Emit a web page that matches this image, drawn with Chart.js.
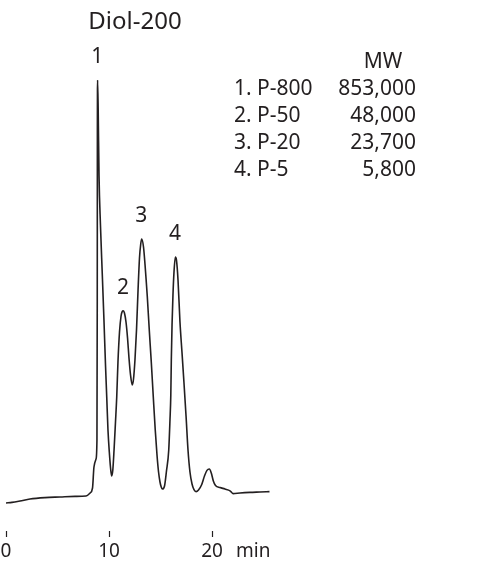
<!DOCTYPE html>
<html>
<head>
<meta charset="utf-8">
<script src="https://cdn.jsdelivr.net/npm/chart.js@4.4.1/dist/chart.umd.min.js"></script>
<style>
  html, body { margin: 0; padding: 0; background: #fff; }
  #wrap { width: 500px; height: 564px; position: relative; }
</style>
</head>
<body>
<div id="wrap"><canvas id="c" width="500" height="564"></canvas></div>
<script>
// ---- data (retention time in min, detector response in arbitrary units) ----
const times = [0, 0.58, 1.36, 2.33, 3.79, 5.24, 6.70, 7.77, 8.16, 8.40, 8.54, 8.74, 8.83, 8.86, 8.87, 8.89,
  8.95, 9.03, 9.17, 9.35, 9.51, 9.66, 9.78, 9.90, 10.05, 10.17, 10.26, 10.37, 10.49, 10.63, 10.75, 10.87,
  11.02, 11.17, 11.28, 11.39, 11.50, 11.65, 11.80, 11.94, 12.09, 12.26, 12.38, 12.52, 12.67, 12.82, 12.96,
  13.08, 13.17, 13.35, 13.50, 13.62, 13.72, 13.91, 14.11, 14.30, 14.49, 14.66, 14.81, 14.95, 15.07, 15.19,
  15.39, 15.58, 15.80, 15.92, 16.00, 16.05, 16.12, 16.21, 16.31, 16.44, 16.55, 16.70, 16.89, 17.09, 17.28,
  17.48, 17.67, 17.86, 18.06, 18.25, 18.45, 18.69, 18.98, 19.27, 19.51, 19.74, 19.93, 20.13, 20.34, 20.78,
  21.26, 21.75, 22.04, 22.72, 23.69, 24.66, 25.58];
const response = [-1.75, -1.6, -1.25, -0.75, -0.4, -0.25, -0.1, 0, 0.75, 2.0, 7.25, 9.25, 14, 49, 86.5, 104,
  96.5, 80.25, 67.75, 55.25, 44, 32.75, 24.75, 16.5, 10.25, 6.5, 5, 6.5, 11.5, 18.5, 24.75, 33.5,
  41, 45, 46.1, 46.3, 45.75, 43.5, 39.5, 34.5, 30.25, 27.75, 29.25, 34, 41.5, 51.5, 59.5,
  63, 64.25, 62.25, 57.75, 53.5, 49.75, 41.5, 33.25, 24.75, 16.5, 10.25, 6, 3.5, 2.25, 1.75,
  2.5, 6.25, 11.5, 19, 25.25, 34, 42.75, 50.25, 56, 59.75, 59, 54, 43.5, 35.75, 28.25,
  20, 11.5, 6, 3, 1.6, 1.1, 1.5, 2.75, 5, 6.4, 6.75, 5.75, 3.75, 2.6, 2.1,
  1.75, 1.3, 0.6, 0.75, 0.9, 1.0, 1.1];

const tickValues = [0, 10, 20, 24];
const tickLabels = ['0', '10', '20', 'min'];

const titleText = 'Diol-200';
const peakNames = ['1', '2', '3', '4'];
const peakTimes = [8.89, 11.39, 13.17, 16.44];
const peakHeights = [104, 46.3, 64.25, 59.75];

const legendHeader = 'MW';
const legendNames = ['1. P-800', '2. P-50', '3. P-20', '4. P-5'];
const legendMW = ['853,000', '48,000', '23,700', '5,800'];

const FONT = '"Noto Sans", "Open Sans", sans-serif';
const INK = '#231f20';

const annotations = {
  id: 'annotations',
  afterDraw(chart) {
    const { ctx, scales } = chart;
    const xs = scales.x, ys = scales.y;
    ctx.save();
    ctx.fillStyle = INK;
    ctx.textBaseline = 'middle';

    // title
    ctx.font = '24px ' + FONT;
    ctx.textAlign = 'center';
    ctx.fillText(titleText, 135, 22);

    // peak labels anchored to the peaks
    ctx.font = '21px ' + FONT;
    peakNames.forEach((n, i) => {
      const px = xs.getPixelForValue(peakTimes[i]);
      const py = ys.getPixelForValue(peakHeights[i]);
      ctx.fillText(n, px - 0.3, py - 22.5);
    });

    // legend table
    ctx.font = '21px ' + FONT;
    ctx.textAlign = 'center';
    ctx.fillText(legendHeader, 383, 62);
    legendNames.forEach((n, i) => {
      const y = 89 + i * 27;
      ctx.textAlign = 'left';
      ctx.fillText(n, 234, y);
      ctx.textAlign = 'right';
      ctx.fillText(legendMW[i], 416, y);
    });
    ctx.restore();
  }
};

new Chart(document.getElementById('c'), {
  type: 'line',
  data: {
    datasets: [{
      data: times.map((t, i) => ({ x: t, y: response[i] })),
      borderColor: INK,
      borderWidth: 1.6,
      pointRadius: 0,
      fill: false,
      cubicInterpolationMode: 'monotone'
    }]
  },
  options: {
    responsive: false,
    animation: false,
    devicePixelRatio: 1,
    layout: { padding: { left: 6, right: 0, top: 80, bottom: 0 } },
    plugins: { legend: { display: false }, tooltip: { enabled: false }, title: { display: false } },
    scales: {
      x: {
        type: 'linear',
        min: 0,
        max: 47.96,
        afterBuildTicks(scale) { scale.ticks = tickValues.map(v => ({ value: v })); },
        afterFit(scale) { scale.height = 33; scale.paddingLeft = 0; scale.paddingRight = 0; },
        border: { display: false },
        grid: {
          drawOnChartArea: false,
          drawTicks: true,
          tickLength: 6,
          tickWidth: 1.2,
          tickColor: (c) => (c.index === 3 ? 'rgba(0,0,0,0)' : INK)
        },
        ticks: {
          autoSkip: false,
          maxRotation: 0,
          padding: 3,
          color: INK,
          font: { family: FONT, size: 19 },
          callback: (v, i) => tickLabels[i]
        }
      },
      y: {
        type: 'linear',
        display: false,
        min: -8.75,
        max: 104
      }
    }
  },
  plugins: [annotations]
});
</script>
</body>
</html>
